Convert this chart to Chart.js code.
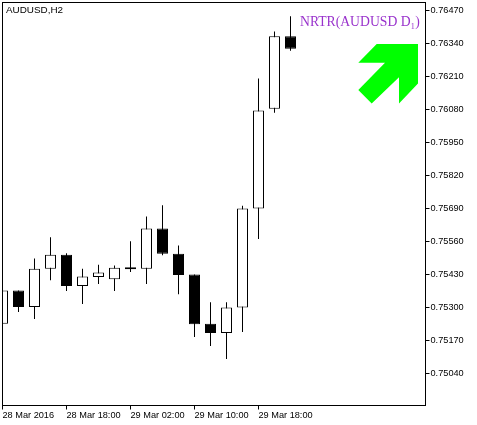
<html>
<head>
    <script src="https://cdn.jsdelivr.net/npm/chart.js@4/dist/chart.umd.min.js"></script>
    <style>
        html, body { margin: 0; padding: 0; background: #fff; overflow: hidden; }
        canvas { display: block; }
    </style>
</head>
<body>
    <canvas id="myChart" width="477" height="425"></canvas>

    <script>
        // bars are H2
        const opens  = [0.75237, 0.75367, 0.75302, 0.75453, 0.75508, 0.75385, 0.75420, 0.75412, 0.75459, 0.75453, 0.75611, 0.75512, 0.75430, 0.75237, 0.75200, 0.75300, 0.75690, 0.76082, 0.76367];
        const highs  = [0.75367, 0.75367, 0.75493, 0.75577, 0.75514, 0.75453, 0.75469, 0.75466, 0.75561, 0.75658, 0.75703, 0.75544, 0.75430, 0.75321, 0.75321, 0.75701, 0.76201, 0.76386, 0.76446];
        const lows   = [0.75237, 0.75283, 0.75255, 0.75408, 0.75365, 0.75314, 0.75393, 0.75365, 0.75440, 0.75393, 0.75506, 0.75353, 0.75184, 0.75149, 0.75098, 0.75204, 0.75570, 0.76066, 0.76310];
        const closes = [0.75367, 0.75302, 0.75453, 0.75508, 0.75385, 0.75422, 0.75438, 0.75457, 0.75451, 0.75611, 0.75512, 0.75428, 0.75235, 0.75200, 0.75300, 0.75690, 0.76075, 0.76367, 0.76318];

        const priceTicks = [0.75040, 0.75170, 0.75300, 0.75430, 0.75560, 0.75690, 0.75820, 0.75950, 0.76080, 0.76210, 0.76340, 0.76470];
        const timeTicks = [0, 4, 8, 12, 16];
        const timeLabels = ['28 Mar 2016', '28 Mar 18:00', '29 Mar 02:00', '29 Mar 10:00', '29 Mar 18:00'];

        const symbolText = 'AUDUSD,H2';
        const nrtrText = 'NRTR(AUDUSD D\u2081)';

        const bodyColors = opens.map((o, i) => closes[i] < o ? '#000000' : '#ffffff');
        const axisFont = { family: 'Liberation Sans', size: 9.2 };

        // frame, symbol name, signal text and the big green arrow
        const decorations = {
            id: 'decorations',
            afterDatasetsDraw(chart) {
                const ctx = chart.ctx;
                const a = chart.chartArea;
                ctx.save();
                ctx.strokeStyle = '#000';
                ctx.lineWidth = 1;
                ctx.strokeRect(a.left, a.top, a.right - a.left, a.bottom - a.top);

                ctx.fillStyle = '#000';
                ctx.font = '9.9px "Liberation Sans"';
                ctx.textBaseline = 'alphabetic';
                ctx.fillText(symbolText, 6, 13);

                ctx.fillStyle = '#9932CC';
                ctx.font = '13.7px "Liberation Serif"';
                ctx.fillText(nrtrText, 300, 26);

                ctx.fillStyle = '#00FF00';
                ctx.beginPath();
                ctx.moveTo(376.7, 44);
                ctx.lineTo(418, 44);
                ctx.lineTo(418, 83.5);
                ctx.lineTo(399, 103.5);
                ctx.lineTo(399, 77.3);
                ctx.lineTo(371.7, 103.5);
                ctx.lineTo(358.3, 90);
                ctx.lineTo(385, 62.7);
                ctx.lineTo(358.3, 62.7);
                ctx.closePath();
                ctx.fill();
                ctx.restore();
            }
        };

        const ctx = document.getElementById('myChart').getContext('2d');
        const myChart = new Chart(ctx, {
            type: 'bar',
            data: {
                datasets: [
                    {
                        label: 'body',
                        data: opens.map((o, i) => ({ x: i, y: [o, closes[i]] })),
                        backgroundColor: bodyColors,
                        borderColor: '#000000',
                        borderWidth: 1,
                        borderSkipped: false,
                        barThickness: 11,
                        grouped: false,
                        inflateAmount: 0
                    },
                    {
                        label: 'wick',
                        data: lows.map((l, i) => ({ x: i, y: [l, highs[i]] })),
                        backgroundColor: '#000000',
                        borderWidth: 0,
                        barThickness: 1,
                        grouped: false,
                        inflateAmount: 0
                    }
                ]
            },
            options: {
                responsive: false,
                animation: false,
                events: [],
                layout: { padding: { left: 2.5, top: 2.5, right: 0, bottom: 0 } },
                plugins: { legend: { display: false }, tooltip: { enabled: false } },
                scales: {
                    x: {
                        type: 'linear',
                        offset: false,
                        min: 0,
                        max: 26.4375,
                        afterFit(scale) {
                            scale.height = 19.5;
                            scale.paddingLeft = 0;
                            scale.paddingRight = 0;
                        },
                        afterBuildTicks(scale) { scale.ticks = timeTicks.map(v => ({ value: v })); },
                        grid: { offset: false, drawOnChartArea: false, color: '#000', tickLength: 4 },
                        border: { color: '#000' },
                        ticks: {
                            autoSkip: false,
                            maxRotation: 0,
                            align: 'start',
                            padding: 0,
                            color: '#000',
                            font: axisFont,
                            callback: (v) => timeLabels[timeTicks.indexOf(v)]
                        }
                    },
                    y: {
                        position: 'right',
                        min: 0.74915,
                        max: 0.76500,
                        afterFit(scale) {
                            scale.width = 51.5;
                            scale.paddingTop = 0;
                            scale.paddingBottom = 0;
                        },
                        afterBuildTicks(scale) { scale.ticks = priceTicks.map(v => ({ value: v })); },
                        grid: { drawOnChartArea: false, color: '#000', tickLength: 4 },
                        border: { color: '#000' },
                        ticks: {
                            autoSkip: false,
                            padding: 1,
                            color: '#000',
                            font: axisFont,
                            callback: (v) => v.toFixed(5)
                        }
                    }
                }
            },
            plugins: [decorations]
        });
    </script>
</body>
</html>
